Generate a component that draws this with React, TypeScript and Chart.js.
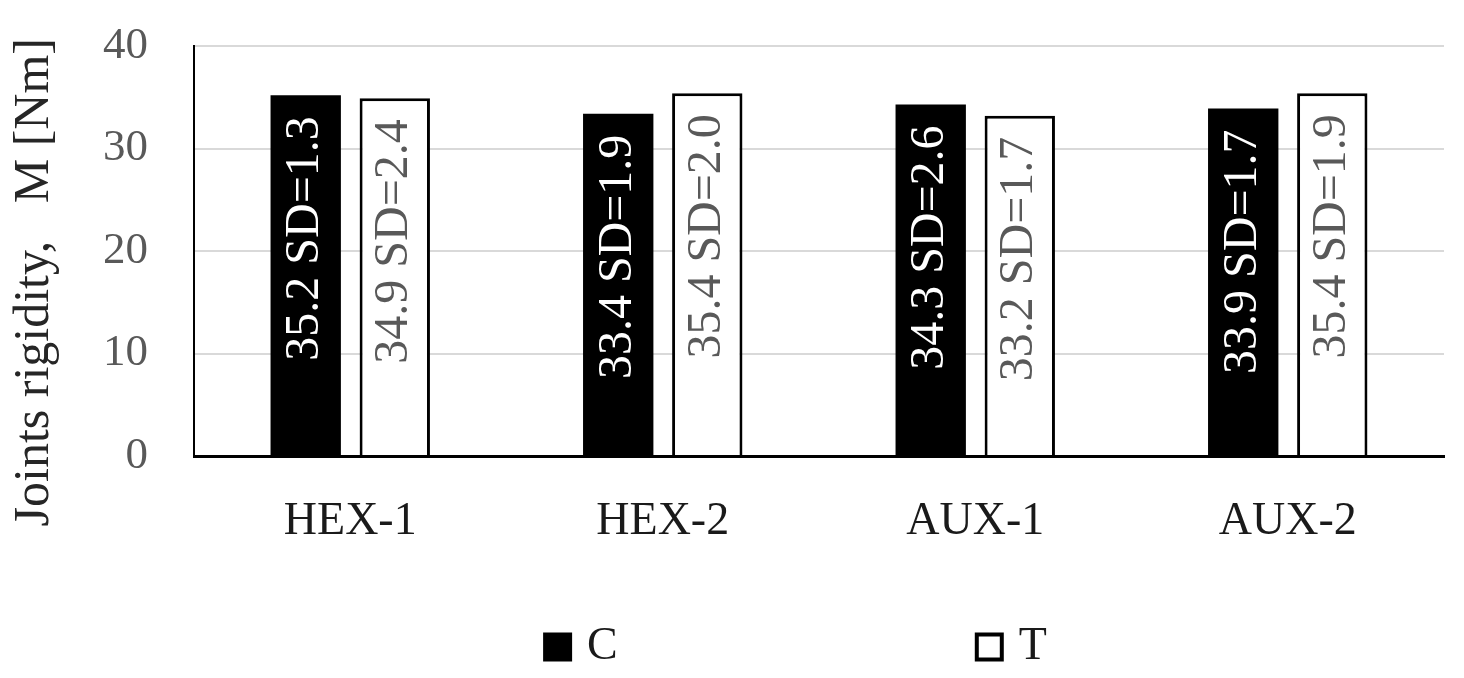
import React, { useEffect, useRef } from "react";
import { Chart, registerables } from "chart.js";

Chart.register(...registerables);

const categories = ["HEX-1", "HEX-2", "AUX-1", "AUX-2"];
const seriesNames = ["C", "T"];
const cMeans = [35.2, 33.4, 34.3, 33.9];
const cSD = [1.3, 1.9, 2.6, 1.7];
const tMeans = [34.9, 35.4, 33.2, 35.4];
const tSD = [2.4, 2.0, 1.7, 1.9];
const yMin = 0;
const yMax = 40;
const yStep = 10;
const yTitle = "Joints rigidity,   M [Nm]";

const FONT = '"Liberation Serif", "Times New Roman", serif';

const valueLabels = {
  id: "valueLabels",
  afterDatasetsDraw(chart: any) {
    const ctx = chart.ctx;
    chart.data.datasets.forEach((ds: any, di: number) => {
      const meta = chart.getDatasetMeta(di);
      meta.data.forEach((bar: any, i: number) => {
        const v = ds.data[i] as number;
        const text = `${v.toFixed(1)} SD=${ds.sd[i].toFixed(1)}`;
        ctx.save();
        ctx.translate(bar.x, bar.y + 21);
        ctx.rotate(-Math.PI / 2);
        ctx.textAlign = "right";
        ctx.textBaseline = "middle";
        ctx.font = `48px ${FONT}`;
        ctx.fillStyle = ds.labelColor;
        ctx.fillText(text, 0, 0);
        ctx.restore();
      });
    });
  },
};

const bottomLegend = {
  id: "bottomLegend",
  afterDraw(chart: any) {
    const ctx = chart.ctx;
    const area = chart.chartArea;
    const box = 29;
    const gap = 15;
    const spacing = 357;
    ctx.save();
    ctx.font = `46px ${FONT}`;
    const items = chart.data.datasets.map((ds: any) => ({
      label: ds.label,
      fill: ds.backgroundColor,
      border: ds.borderColor,
      bw: ds.borderWidth,
      w: box + gap + ctx.measureText(ds.label).width,
    }));
    const total =
      items.reduce((s: number, it: any) => s + it.w, 0) + spacing * (items.length - 1);
    let x = (area.left + area.right) / 2 - 24 - total / 2;
    const yMid = area.bottom + 191;
    items.forEach((it: any) => {
      const top = yMid - box / 2;
      ctx.fillStyle = it.fill;
      ctx.fillRect(x, top, box, box);
      if (it.bw > 0) {
        ctx.strokeStyle = it.border;
        ctx.lineWidth = 4;
        ctx.strokeRect(x + 2, top + 2, box - 4, box - 4);
      }
      ctx.fillStyle = "#1a1a1a";
      ctx.textAlign = "left";
      ctx.textBaseline = "middle";
      ctx.fillText(it.label, x + box + gap, yMid);
      x += it.w + spacing;
    });
    ctx.restore();
  },
};

export default function App() {
  const ref = useRef<HTMLCanvasElement | null>(null);

  useEffect(() => {
    if (!ref.current) return;
    const chart = new Chart(ref.current, {
      type: "bar",
      data: {
        labels: categories,
        datasets: [
          {
            label: seriesNames[0],
            data: cMeans,
            sd: cSD,
            labelColor: "#ffffff",
            backgroundColor: "#000000",
            borderColor: "#000000",
            borderWidth: 0,
            categoryPercentage: 0.57,
            barPercentage: 0.79,
          } as any,
          {
            label: seriesNames[1],
            data: tMeans,
            sd: tSD,
            labelColor: "#595959",
            backgroundColor: "#ffffff",
            borderColor: "#000000",
            borderWidth: 3,
            categoryPercentage: 0.57,
            barPercentage: 0.79,
          } as any,
        ],
      },
      options: {
        animation: false,
        responsive: true,
        maintainAspectRatio: false,
        layout: { padding: { top: 46, right: 20, bottom: 122, left: 0 } },
        plugins: {
          legend: { display: false },
          tooltip: { enabled: false },
        },
        scales: {
          x: {
            grid: { display: false, drawTicks: false },
            border: { color: "#000000", width: 3 },
            ticks: {
              font: { family: FONT, size: 46 },
              color: "#1a1a1a",
              padding: 38,
            },
            afterFit(s: any) {
              s.height = 100;
            },
          },
          y: {
            min: yMin,
            max: yMax,
            ticks: {
              stepSize: yStep,
              font: { family: FONT, size: 45 },
              color: "#595959",
              padding: 0,
            },
            grid: {
              color: "#d9d9d9",
              lineWidth: 2,
              drawTicks: true,
              tickLength: 46,
              tickColor: "rgba(0,0,0,0)",
            },
            border: { color: "#000000", width: 2 },
            title: {
              display: true,
              text: yTitle + "\u00A0\u00A0\u00A0\u00A0\u00A0",
              font: { family: FONT, size: 50 },
              color: "#262626",
              padding: { top: 5, bottom: 0 },
            },
            afterFit(s: any) {
              s.width = 194;
            },
          },
        },
      } as any,
      plugins: [valueLabels, bottomLegend],
    });
    return () => chart.destroy();
  }, []);

  return (
    <div style={{ position: "fixed", left: 0, top: 0, width: 1464, height: 678, background: "#fff" }}>
      <canvas ref={ref} />
    </div>
  );
}
